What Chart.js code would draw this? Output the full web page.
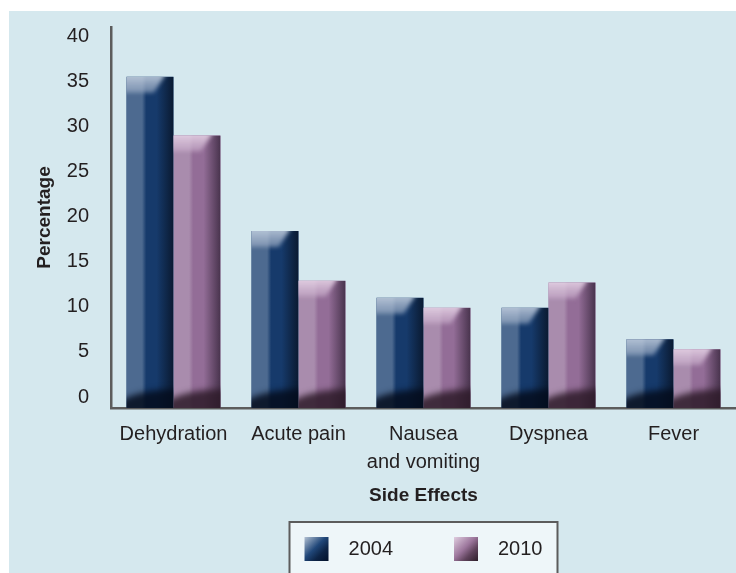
<!DOCTYPE html>
<html>
<head>
<meta charset="utf-8">
<script src="https://cdn.jsdelivr.net/npm/chart.js@4.4.1/dist/chart.umd.min.js"></script>
<style>
  html, body { margin: 0; padding: 0; background: #ffffff; }
  canvas { display: block; }
</style>
</head>
<body>
<canvas id="sideEffects" width="736" height="573"></canvas>
<script>
// Chart data
const categories = ['Dehydration', 'Acute pain', ['Nausea', 'and vomiting'], 'Dyspnea', 'Fever'];
const seriesLabels = ['2004', '2010'];
const values2004 = [35.5, 18.4, 11.0, 9.9, 6.4];
const values2010 = [29.0, 12.9, 9.9, 12.7, 5.3];
const yTicks = [0, 5, 10, 15, 20, 25, 30, 35, 40];

// the original's tick labels sit a bit above the value axis, so the scale starts below 0
const yMin = -1.22;
const yMax = 41.02;

const FONT = '"Liberation Sans", Arial, sans-serif';
const TEXT = '#231f20';
const AXIS = '#5c5c5c';

// bar shading per series
const shades = [
  { left: '#4d6a90', mid: '#163a6b', right: '#0a1a31',
    capTop: 'rgba(196,208,224,0.85)', capBot: 'rgba(150,168,194,0.6)', foot: 'rgba(3,12,28,0.85)',
    swatch: ['#b3c1d3', '#204779', '#0d2446', '#03112a'] },
  { left: '#a98cad', mid: '#936d97', right: '#48334d',
    capTop: 'rgba(232,214,232,0.85)', capBot: 'rgba(200,172,202,0.55)', foot: 'rgba(45,26,40,0.85)',
    swatch: ['#e0cee0', '#9c769c', '#5e425b', '#2e1e2a'] }
];

// light blue panel behind everything
const panelPlugin = {
  id: 'panel',
  beforeDraw(chart) {
    const ctx = chart.ctx;
    ctx.save();
    ctx.fillStyle = '#d5e8ee';
    ctx.fillRect(9, 11, chart.width - 9, chart.height - 11);
    ctx.restore();
  }
};

// glossy look on top of the flat bars
const shadePlugin = {
  id: 'shade',
  afterDatasetsDraw(chart) {
    const ctx = chart.ctx;
    chart.data.datasets.forEach((ds, i) => {
      const s = shades[i];
      chart.getDatasetMeta(i).data.forEach(bar => {
        const { x, y, base, width } = bar.getProps(['x', 'y', 'base', 'width'], true);
        const l = x - width / 2, r = x + width / 2, h = base - y;
        ctx.save();
        ctx.beginPath();
        ctx.rect(l, y, width, h);
        ctx.clip();

        const g = ctx.createLinearGradient(l, 0, r, 0);
        g.addColorStop(0, s.left);
        g.addColorStop(0.33, s.left);
        g.addColorStop(0.42, s.mid);
        g.addColorStop(0.64, s.mid);
        g.addColorStop(1, s.right);
        ctx.fillStyle = g;
        ctx.fillRect(l, y, width, h);

        // dark foot
        ctx.filter = 'blur(3px)';
        ctx.fillStyle = s.foot;
        ctx.beginPath();
        ctx.moveTo(l - 6, base - 7);
        ctx.quadraticCurveTo(l + width * 0.3, base - 19, r + 6, base - 19);
        ctx.lineTo(r + 6, base + 6);
        ctx.lineTo(l - 6, base + 6);
        ctx.closePath();
        ctx.fill();

        // light cap
        ctx.filter = 'blur(2px)';
        const c = ctx.createLinearGradient(0, y, 0, y + 17);
        c.addColorStop(0, s.capTop);
        c.addColorStop(1, s.capBot);
        ctx.fillStyle = c;
        ctx.beginPath();
        ctx.moveTo(l - 6, y - 6);
        ctx.lineTo(l + width * 0.86, y - 6);
        ctx.lineTo(l + width * 0.8, y);
        ctx.lineTo(l + width * 0.58, y + 16);
        ctx.lineTo(l - 6, y + 16);
        ctx.closePath();
        ctx.fill();
        ctx.restore();
      });
    });
  }
};

// boxed legend centred under the plot
const legendPlugin = {
  id: 'boxLegend',
  afterDraw(chart) {
    const ctx = chart.ctx;
    const area = chart.chartArea;
    const xs = chart.scales.x;
    const cx = (area.left + area.right) / 2;
    const top = xs.bottom + 15;
    const sw = 24, gap = 20, itemGap = 61, pad = 15;

    ctx.save();
    ctx.font = '20px ' + FONT;
    const items = chart.data.datasets.map((ds, i) => ({ label: ds.label, w: ctx.measureText(ds.label).width, s: shades[i] }));
    let total = itemGap * (items.length - 1);
    items.forEach(it => { total += sw + gap + it.w; });
    const boxW = total + pad * 2;
    const left = cx - boxW / 2;

    ctx.fillStyle = '#eef6f9';
    ctx.fillRect(left, top, boxW, chart.height - top + 10);
    ctx.strokeStyle = AXIS;
    ctx.lineWidth = 2;
    ctx.strokeRect(left, top, boxW, chart.height - top + 10);

    const cy = top + 27;
    let px = left + pad;
    items.forEach(it => {
      const g = ctx.createLinearGradient(px, cy - sw / 2, px + sw, cy + sw / 2);
      g.addColorStop(0, it.s.swatch[0]);
      g.addColorStop(0.45, it.s.swatch[1]);
      g.addColorStop(0.7, it.s.swatch[2]);
      g.addColorStop(1, it.s.swatch[3]);
      ctx.fillStyle = g;
      ctx.fillRect(px, cy - sw / 2, sw, sw);
      ctx.fillStyle = TEXT;
      ctx.textBaseline = 'middle';
      ctx.textAlign = 'left';
      ctx.fillText(it.label, px + sw + gap, cy);
      px += sw + gap + it.w + itemGap;
    });
    ctx.restore();
  }
};

const ctx = document.getElementById('sideEffects').getContext('2d');
const chart = new Chart(ctx, {
  type: 'bar',
  data: {
    labels: categories,
    datasets: [
      { label: seriesLabels[0], data: values2004, backgroundColor: shades[0].mid, borderWidth: 0, base: yMin,
        categoryPercentage: 0.752, barPercentage: 1 },
      { label: seriesLabels[1], data: values2010, backgroundColor: shades[1].mid, borderWidth: 0, base: yMin,
        categoryPercentage: 0.752, barPercentage: 1 }
    ]
  },
  options: {
    responsive: false,
    animation: false,
    layout: { padding: { left: 20, top: 27, right: 0, bottom: 66 } },
    plugins: {
      legend: { display: false },
      tooltip: { enabled: false }
    },
    scales: {
      x: {
        grid: { display: false, drawTicks: false },
        border: { display: true, color: AXIS, width: 2.5 },
        ticks: { color: TEXT, font: { family: FONT, size: 20, lineHeight: 1.4 }, padding: 12, maxRotation: 0, autoSkip: false },
        title: { display: true, text: 'Side Effects', color: TEXT,
          font: { family: FONT, size: 19, weight: 'bold', lineHeight: 1.2 }, padding: { top: 8, bottom: 0 } },
        afterFit: scale => { scale.height = 99; }
      },
      y: {
        min: yMin,
        max: yMax,
        afterBuildTicks: scale => { scale.ticks = yTicks.map(v => ({ value: v })); },
        grid: { display: false, drawTicks: false },
        border: { display: true, color: AXIS, width: 2.5 },
        ticks: { color: TEXT, font: { family: FONT, size: 20 }, padding: 22 },
        title: { display: true, text: 'Percentage', color: TEXT,
          font: { family: FONT, size: 19, weight: 'bold', lineHeight: 1.2 }, padding: { top: 13, bottom: 0 } },
        afterFit: scale => {
          scale.width = 91;
          scale.paddingTop = 0;
          scale.paddingBottom = 0;
        }
      }
    }
  },
  plugins: [panelPlugin, shadePlugin, legendPlugin]
});
</script>
</body>
</html>
